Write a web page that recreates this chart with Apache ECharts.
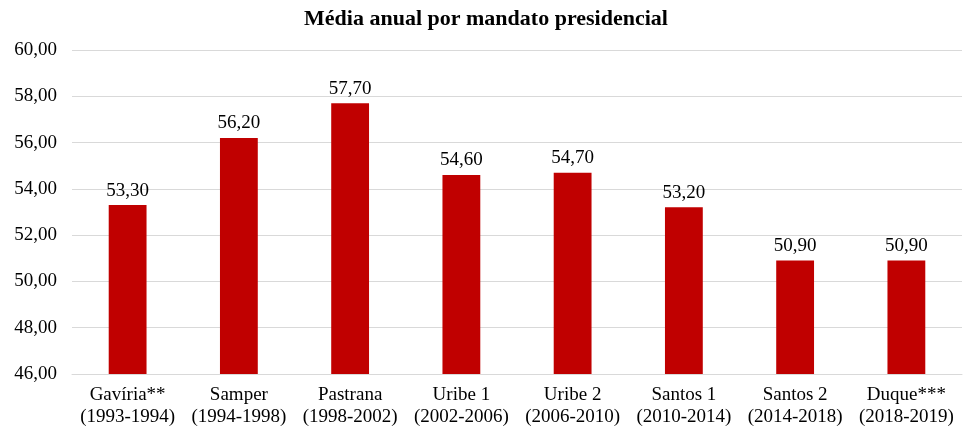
<!DOCTYPE html>
<html><head><meta charset="utf-8">
<script src="https://cdn.jsdelivr.net/npm/echarts@6/dist/echarts.min.js"></script>
<style>html,body{margin:0;padding:0;background:#fff}#c{width:972px;height:430px}</style>
</head><body><div id="c"></div>
<script>
const categories = ['Gavíria**\n(1993-1994)','Samper\n(1994-1998)','Pastrana\n(1998-2002)','Uribe 1\n(2002-2006)','Uribe 2\n(2006-2010)','Santos 1\n(2010-2014)','Santos 2\n(2014-2018)','Duque***\n(2018-2019)'];
const values = [53.3, 56.2, 57.7, 54.6, 54.7, 53.2, 50.9, 50.9];
const titleText = 'Média anual por mandato presidencial';
const fmt = v => v.toFixed(2).replace('.', ',');
const chart = echarts.init(document.getElementById('c'));
const F = '"Liberation Serif","Times New Roman",serif';
chart.setOption({
  animation:false,
  title:{text:titleText,left:'center',top:3,textStyle:{fontFamily:F,fontSize:22,fontWeight:'bold',color:'#000'}},
  grid:{left:72,right:10,top:50,bottom:56},
  xAxis:{type:'category',data:categories,axisLine:{lineStyle:{color:'#d9d9d9'}},axisTick:{show:false},
    axisLabel:{fontFamily:F,fontSize:19,color:'#000',lineHeight:22,margin:10,interval:0}},
  yAxis:{type:'value',min:46,max:60,interval:2,axisLine:{show:false},axisTick:{show:false},
    splitLine:{lineStyle:{color:'#d9d9d9'}},
    axisLabel:{fontFamily:F,fontSize:19,color:'#000',margin:15,formatter:v=>fmt(v)}},
  series:[{type:'bar',data:values,barWidth:'34%',itemStyle:{color:'#C00000'},
    label:{show:true,position:'top',distance:5,fontFamily:F,fontSize:19,color:'#000',formatter:p=>fmt(p.value)}}]
});
</script></body></html>
